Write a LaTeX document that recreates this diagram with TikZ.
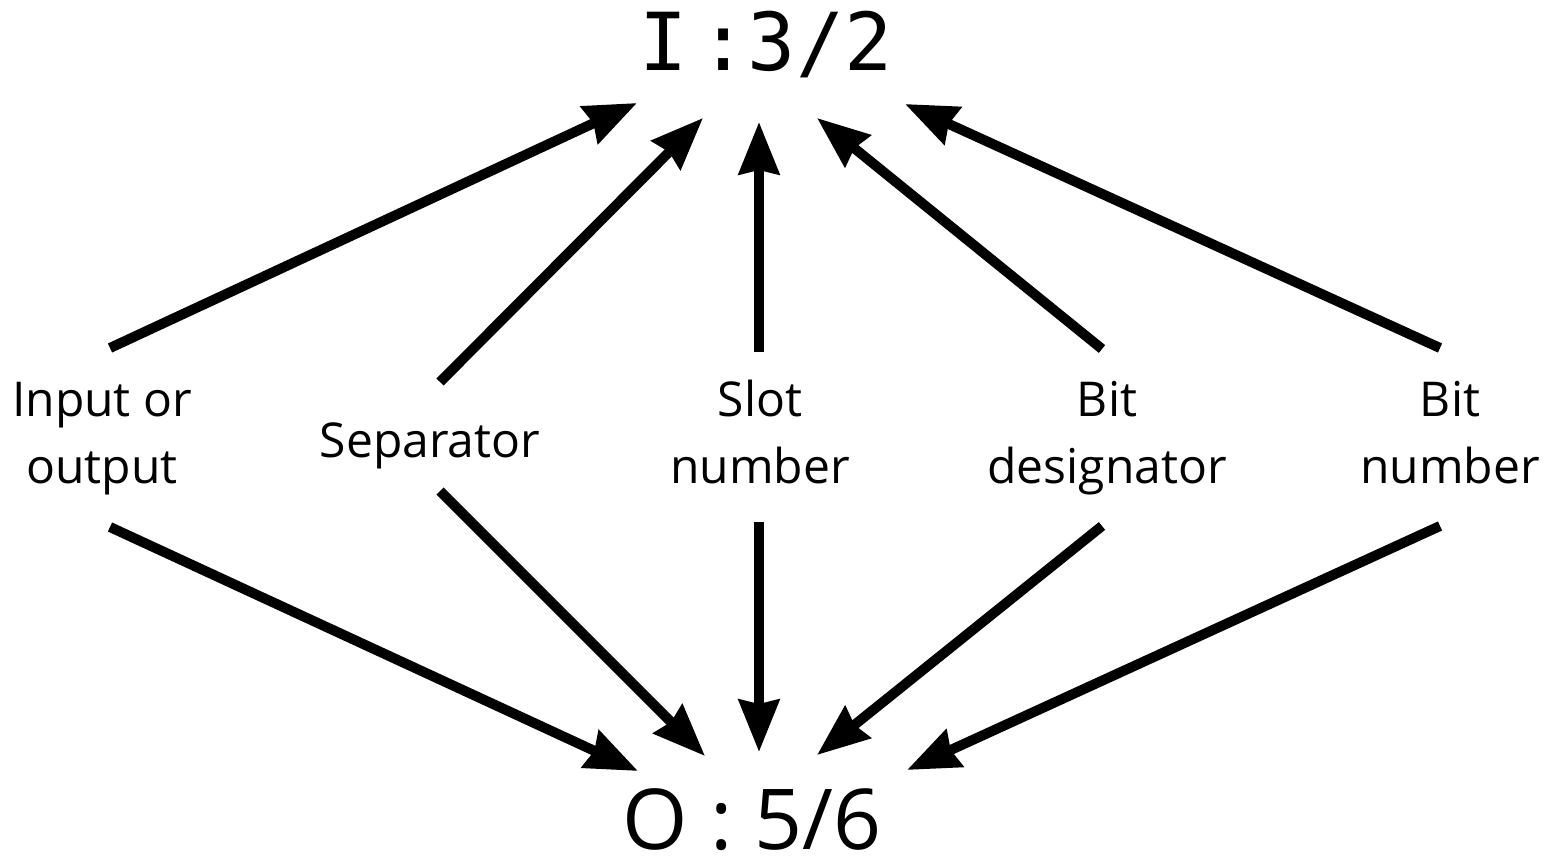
\documentclass[tikz,border=0pt]{standalone}
\usepackage{fontspec}
\setmainfont{Open Sans}
\newfontfamily\addrmono{DejaVu Sans Mono}
\usetikzlibrary{arrows.meta}
\begin{document}
\begin{tikzpicture}[x=1pt,y=-1pt,
  arr/.style={line width=10pt,-{Stealth[length=52pt,width=40pt,inset=4pt]}},
  lbl/.style={align=center,anchor=base,inner sep=0pt,
    font=\fontsize{48}{67}\selectfont},
  addr/.style={anchor=base,inner sep=0pt}]
\useasboundingbox (0,0) rectangle (1551,864);

% addresses
\node[addr,font=\addrmono\fontsize{80}{80}\selectfont] (in) at (766,71) {I\kern12pt:3/2};
\node[addr,text depth=0pt,font=\fontsize{84}{84}\selectfont] (out) at (752,849) {O : 5/6};

% field labels (base anchor sits on the last line)
\node[lbl] (io)  at (102,483) {Input or\\output};
\node[lbl] (sep) at (430,457) {Separator};
\node[lbl] (slot) at (760,483) {Slot\\number};
\node[lbl] (bd)  at (1107,483) {Bit\\designator};
\node[lbl] (bn)  at (1450,483) {Bit\\number};

% arrow ends near the addresses
\coordinate (i1) at (637,103);
\coordinate (i2) at (703,118);
\coordinate (i3) at (759,122);
\coordinate (i4) at (817,118);
\coordinate (i5) at (905,104);
\coordinate (o1) at (638,771);
\coordinate (o2) at (705,756);
\coordinate (o3) at (759,752);
\coordinate (o4) at (817,755);
\coordinate (o5) at (907,770);

% arrow starts near the labels
\coordinate (io-u) at (110,348);
\coordinate (io-d) at (110,527);
\coordinate (sep-u) at (440,382);
\coordinate (sep-d) at (440,491);
\coordinate (slot-u) at (759,352);
\coordinate (slot-d) at (759,522);
\coordinate (bd-u) at (1102,349);
\coordinate (bd-d) at (1102,526);
\coordinate (bn-u) at (1440,348);
\coordinate (bn-d) at (1440,526);

\draw[arr] (io-u) -- (i1);
\draw[arr] (sep-u) -- (i2);
\draw[arr] (slot-u) -- (i3);
\draw[arr] (bd-u) -- (i4);
\draw[arr] (bn-u) -- (i5);
\draw[arr] (io-d) -- (o1);
\draw[arr] (sep-d) -- (o2);
\draw[arr] (slot-d) -- (o3);
\draw[arr] (bd-d) -- (o4);
\draw[arr] (bn-d) -- (o5);
\end{tikzpicture}
\end{document}
